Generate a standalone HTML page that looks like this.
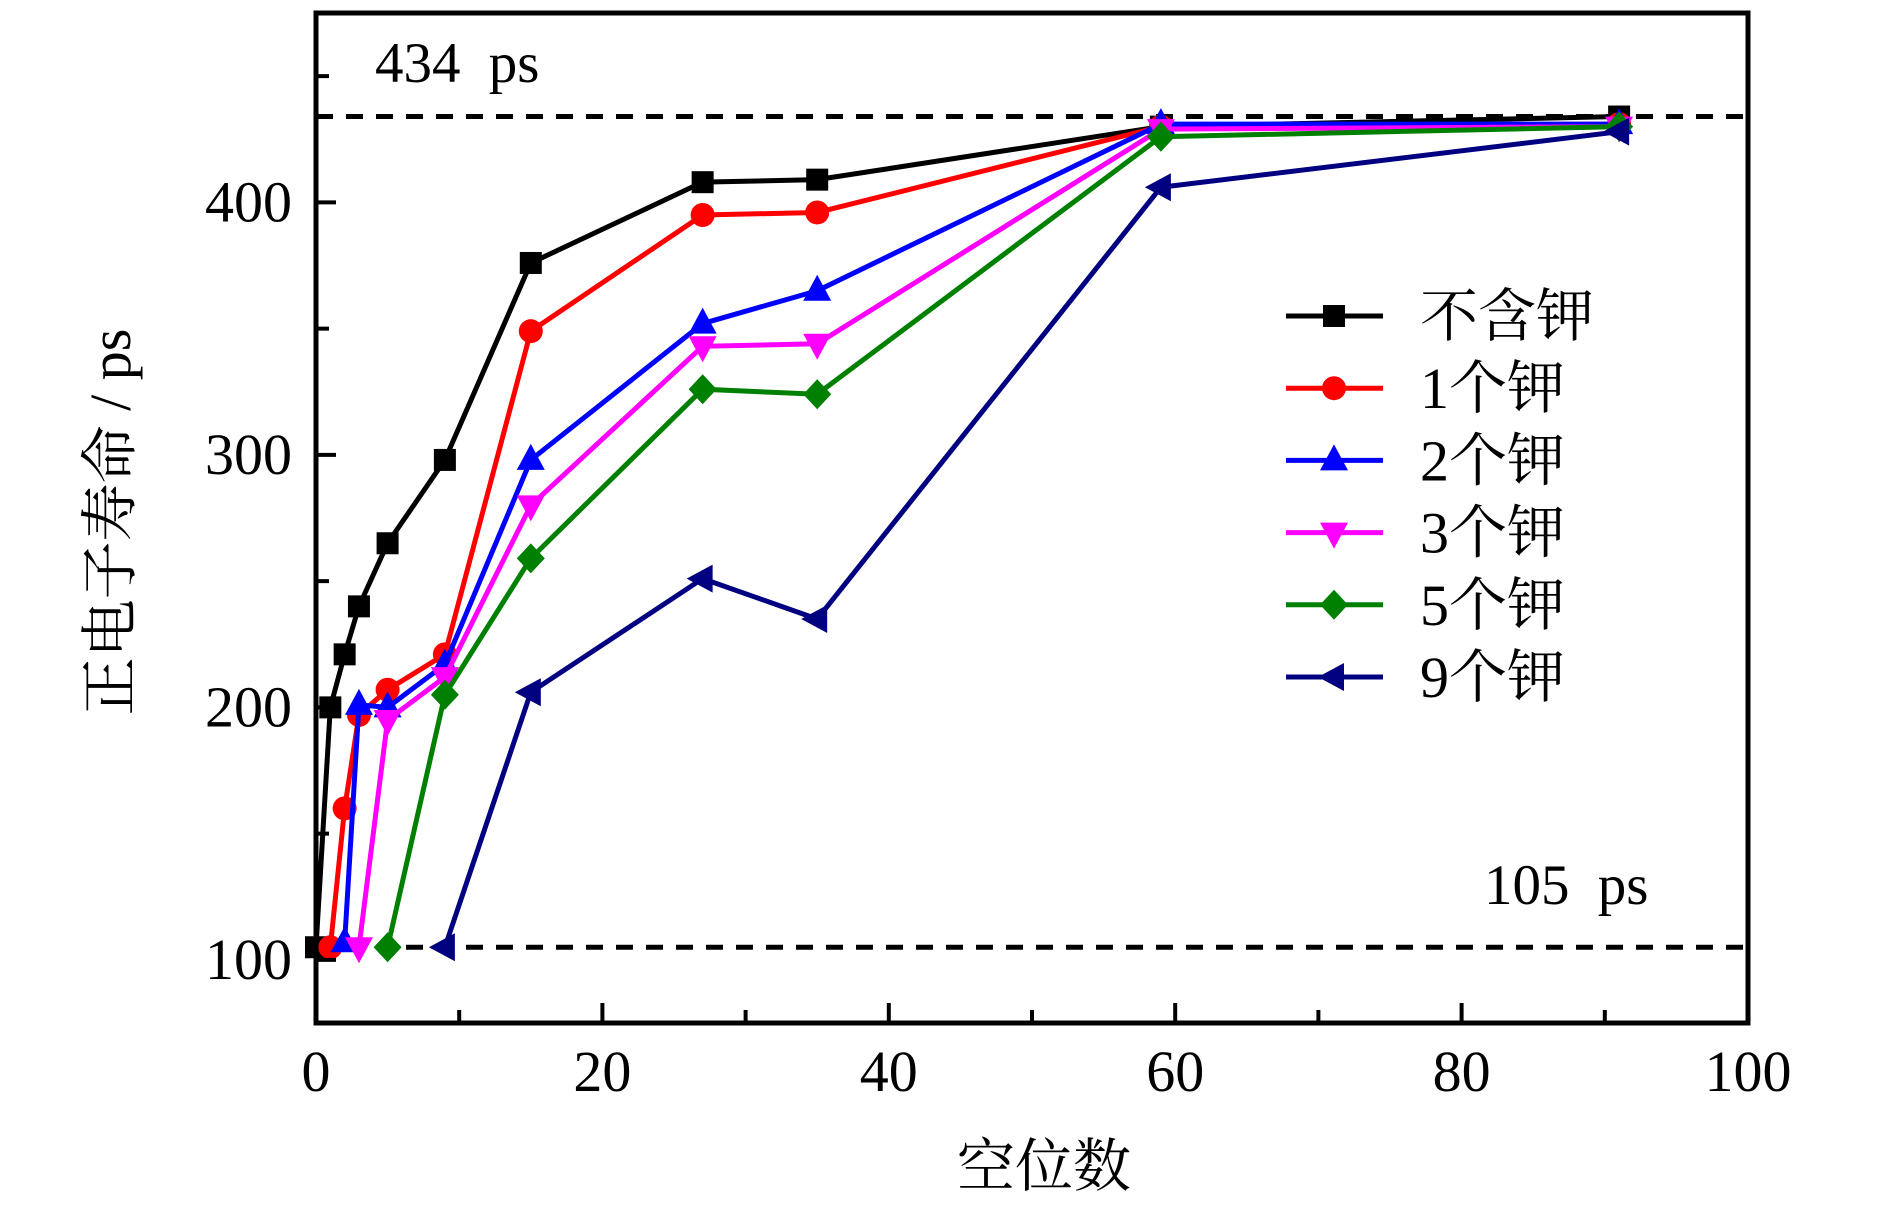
<!DOCTYPE html>
<html><head><meta charset="utf-8"><style>
html,body{margin:0;padding:0;background:#fff;}
svg{display:block;}
text{font-family:"Liberation Serif","Noto Serif CJK SC","Noto Sans CJK SC",serif;fill:#000;}
</style></head><body>
<svg id="chart" width="1890" height="1205" viewBox="0 0 1890 1205" xmlns="http://www.w3.org/2000/svg">
<g id="plot"></g>
</svg>
<script>
const xTicks=[0,20,40,60,80,100];
const yTicks=[100,200,300,400];
const seriesNames=["不含钾","1个钾","2个钾","3个钾","5个钾","9个钾"];
const s0x=[0,1,2,3,5,9,15,27,35,59,91];
const s0y=[105,200,221,240,265,298,376,408,409,430,434];
const s1x=[1,2,3,5,9,15,27,35,59,91];
const s1y=[105,160,197,207,221,349,395,396,430,431];
const s2x=[2,3,5,9,15,27,35,59,91];
const s2y=[107,201,200,217,298,352,365,431,431];
const s3x=[3,5,9,15,27,35,59,91];
const s3y=[105,195,212,280,343,344,429,430];
const s4x=[5,9,15,27,35,59,91];
const s4y=[105,205,259,326,324,426,430];
const s5x=[9,15,27,35,59,91];
const s5y=[105,206,251,235,406,428];
const refLines=[434,105];

const NS="http://www.w3.org/2000/svg";
const L=316,R=1748,T=13,B=1023;
const xMin=0,xMax=100,yMin=75,yMax=475;
function sx(v){return L+(v-xMin)/(xMax-xMin)*(R-L);}
function sy(v){return B-(v-yMin)/(yMax-yMin)*(B-T);}
const g=document.getElementById('plot');
function mk(tag,attrs,parent){const e=document.createElementNS(NS,tag);for(const k in attrs)e.setAttribute(k,attrs[k]);(parent||g).appendChild(e);return e;}

refLines.forEach((v,i)=>{
  const l=mk('line',{x1:L,x2:R,y1:sy(v),y2:sy(v),stroke:'#000','stroke-width':5,'stroke-dasharray':'17,13'});
  
  
});

const colors=["#000000","#ff0000","#0000ff","#ff00ff","#008000","#000080"];
const shapes=["square","circle","up","down","diamond","left"];
const xs=[s0x,s1x,s2x,s3x,s4x,s5x], ys=[s0y,s1y,s2y,s3y,s4y,s5y];

function marker(shape,cx,cy,c,parent){
  let e;
  if(shape==='square') e=mk('rect',{x:cx-11,y:cy-11,width:22,height:22,fill:c},parent);
  else if(shape==='circle') e=mk('circle',{cx:cx,cy:cy,r:12,fill:c},parent);
  else if(shape==='up') e=mk('polygon',{points:`${cx},${cy-16} ${cx-14},${cy+10} ${cx+14},${cy+10}`,fill:c},parent);
  else if(shape==='down') e=mk('polygon',{points:`${cx},${cy+16} ${cx-14},${cy-10} ${cx+14},${cy-10}`,fill:c},parent);
  else if(shape==='diamond') e=mk('polygon',{points:`${cx},${cy-15} ${cx+14},${cy} ${cx},${cy+15} ${cx-14},${cy}`,fill:c},parent);
  else e=mk('polygon',{points:`${cx-16},${cy} ${cx+10},${cy-14} ${cx+10},${cy+14}`,fill:c},parent);
  return e;
}

for(let s=0;s<6;s++){
  const sg=mk('g',{});
  
  
  const pts=xs[s].map((x,i)=>sx(x)+','+sy(ys[s][i])).join(' ');
  const pl=mk('polyline',{points:pts,fill:'none',stroke:colors[s],'stroke-width':5,'stroke-linejoin':'miter'},sg);
  
  
  xs[s].forEach((x,i)=>{
    const m=marker(shapes[s],sx(x),sy(ys[s][i]),colors[s],sg);
    
    
  });
}

const fr=mk('rect',{x:L,y:T,width:R-L,height:B-T,fill:'none',stroke:'#000','stroke-width':5});



for(let v=0;v<=100;v+=10){
  const major=v%20===0;
  const t=mk('line',{x1:sx(v),x2:sx(v),y1:B,y2:B-(major?20:13),stroke:'#000','stroke-width':4});
  
  
}
xTicks.forEach(v=>{
  const t=mk('text',{x:sx(v),y:1091,'text-anchor':'middle','font-size':58});
  t.textContent=v;
  
  
});
for(let v=100;v<=450;v+=50){
  const major=v%100===0;
  const t=mk('line',{x1:L,x2:L+(major?20:13),y1:sy(v),y2:sy(v),stroke:'#000','stroke-width':4});
  
  
}
yTicks.forEach(v=>{
  const t=mk('text',{x:292,y:sy(v)+19,'text-anchor':'end','font-size':58});
  t.textContent=v;
  
  
});

const a1=mk('text',{x:375,y:82,'font-size':57,'word-spacing':14});a1.textContent='434 ps';


const a2=mk('text',{x:1484,y:904,'font-size':57,'word-spacing':14});a2.textContent='105 ps';



const xt=mk('text',{x:1044,y:1186,'text-anchor':'middle','font-size':58});xt.textContent='空位数';


const yt=mk('text',{x:0,y:0,'text-anchor':'middle','font-size':58,transform:'translate(130,522) rotate(-90)'});yt.textContent='正电子寿命 / ps';



const lg=mk('g',{});


for(let s=0;s<6;s++){
  const y=316+s*72.2;
  const e=mk('g',{},lg);
  
  
  mk('line',{x1:1286,x2:1383,y1:y,y2:y,stroke:colors[s],'stroke-width':5},e);
  marker(shapes[s],1334,y,colors[s],e);
  const t=mk('text',{x:1420,y:y+20,'font-size':58},e);
  t.textContent=seriesNames[s];
}
</script>
</body></html>
